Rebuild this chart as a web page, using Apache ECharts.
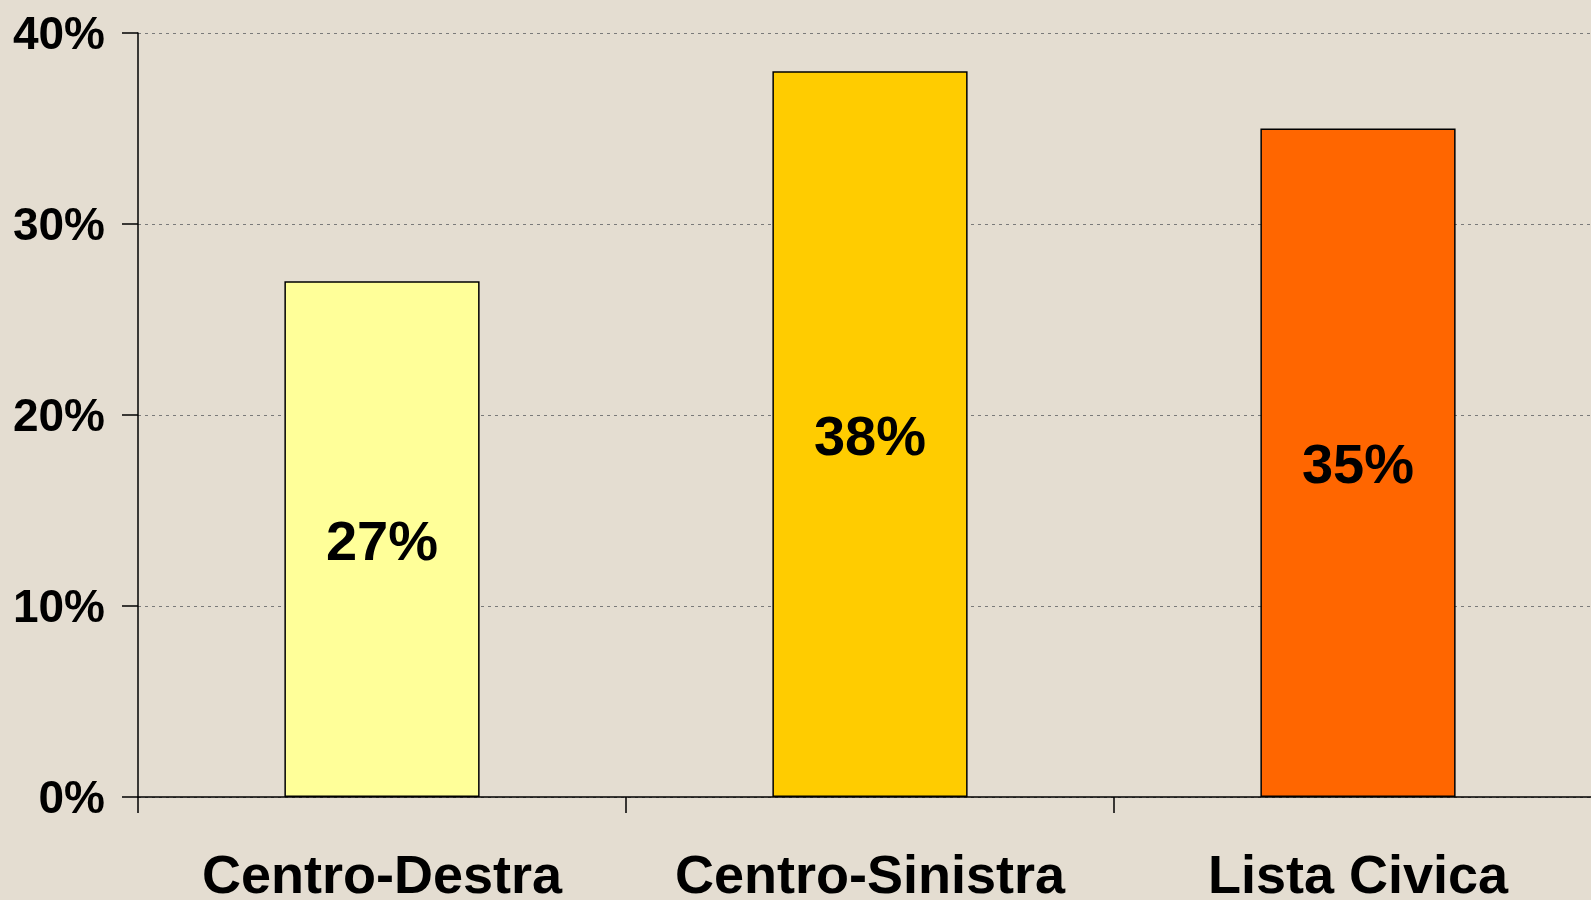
<!DOCTYPE html>
<html><head><meta charset="utf-8">
<script src="https://cdn.jsdelivr.net/npm/echarts@6/dist/echarts.min.js"></script>
<style>html,body{margin:0;padding:0;background:#e4ddd1;}#c{width:1591px;height:900px;}</style>
</head><body><div id="c"></div>
<script>
const categories = ['Centro-Destra', 'Centro-Sinistra', 'Lista Civica'];
const values = [27, 38, 35];
const barColors = ['#FFFF99', '#FFCC00', '#FF6600'];
const yTicks = [0, 10, 20, 30, 40];

const chart = echarts.init(document.getElementById('c'));
const FONT = '"Liberation Sans", Arial, Helvetica, sans-serif';
chart.setOption({
  backgroundColor: '#e4ddd1',
  animation: false,
  grid: { left: 138, right: -11, top: 33, bottom: 103, containLabel: false, outerBoundsMode: 'none' },
  xAxis: {
    type: 'category',
    data: categories,
    axisLine: { lineStyle: { color: '#000', width: 1.5 } },
    axisTick: { show: true, length: 16, lineStyle: { color: '#000', width: 1.5 } },
    axisLabel: { interval: 0, color: '#000', fontFamily: FONT, fontWeight: 'bold', fontSize: 54, margin: 54 }
  },
  yAxis: {
    type: 'value',
    min: yTicks[0], max: yTicks[yTicks.length - 1], interval: 10,
    axisLine: { show: true, lineStyle: { color: '#000', width: 1.5 } },
    axisTick: { show: true, length: 16, lineStyle: { color: '#000', width: 1.5 } },
    axisLabel: { color: '#000', fontFamily: FONT, fontWeight: 'bold', fontSize: 46, margin: 33,
      formatter: v => '{a|' + v + '%}',
      rich: { a: { color: '#000', fontFamily: FONT, fontWeight: 'bold', fontSize: 46, padding: [6, 0, 0, 0] } } },
    splitLine: { show: true, lineStyle: { color: '#7a7a7a', width: 1, type: [3, 4] } }
  },
  series: [{
    type: 'bar',
    barWidth: '40%',
    data: values.map((v, i) => ({ value: v, itemStyle: { color: barColors[i] } })),
    itemStyle: { borderColor: '#000', borderWidth: 1.5 },
    label: { show: true, position: 'inside', offset: [0, 5], color: '#000', fontFamily: FONT, fontWeight: 'bold',
      fontSize: 56, formatter: p => p.value + '%' }
  }]
});
</script></body></html>
